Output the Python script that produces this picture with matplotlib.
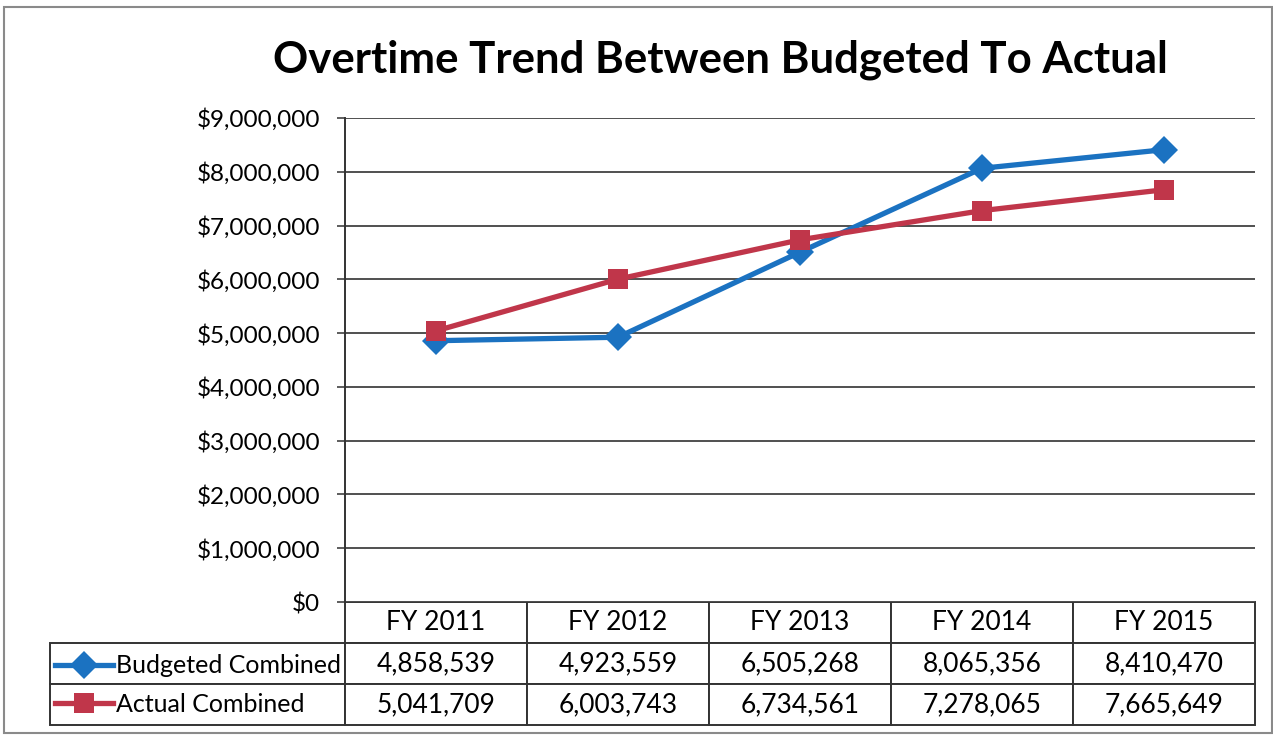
import matplotlib
matplotlib.use("Agg")
import matplotlib.pyplot as plt
from matplotlib.patches import Rectangle
from matplotlib.ticker import FuncFormatter

plt.rcParams['font.family'] = ['Lato', 'DejaVu Sans']

years = ['FY 2011', 'FY 2012', 'FY 2013', 'FY 2014', 'FY 2015']
budgeted = [4858539, 4923559, 6505268, 8065356, 8410470]
actual = [5041709, 6003743, 6734561, 7278065, 7665649]
series_names = ['Budgeted Combined', 'Actual Combined']

blue = '#1b72c1'
red = '#c0364a'
grid_col = '#505050'

fig = plt.figure(figsize=(12.73, 7.38), dpi=100)
# axes placed in pixel terms of the reference: x 345..1255, y 118..602
ax = fig.add_axes([345 / 1273, 1 - 602 / 738, 910 / 1273, 484 / 738])

x = list(range(len(years)))
line_b, = ax.plot(x, budgeted, color=blue, lw=3.8, marker='D', ms=14,
                  markeredgewidth=0, label=series_names[0], zorder=3, clip_on=False)
line_a, = ax.plot(x, actual, color=red, lw=3.8, marker='s', ms=15,
                  markeredgewidth=0, label=series_names[1], zorder=3, clip_on=False)

ax.set_xlim(-0.5, len(years) - 0.5)
ax.set_ylim(0, 9000000)
ax.set_yticks(range(0, 9000001, 1000000))
ax.yaxis.set_major_formatter(FuncFormatter(lambda v, p: '${:,.0f}'.format(v)))
ax.tick_params(axis='y', labelsize=17.5, length=6, width=1.3, color=grid_col, pad=12)
ax.set_xticks([])
ax.grid(axis='y', color=grid_col, lw=1.4)
ax.set_axisbelow(True)
for s in ['top', 'right', 'bottom']:
    ax.spines[s].set_visible(False)
ax.spines['left'].set_color('#333333')
ax.spines['left'].set_linewidth(1.4)

# data table underneath (bbox covers the year columns, the label column hangs left)
cells = [['{:,}'.format(v) for v in budgeted],
         ['{:,}'.format(v) for v in actual]]
tbl = ax.table(cellText=cells, colLabels=years,
               colWidths=[0.2] * len(years),
               cellLoc='center', colLoc='center',
               bbox=[0, -123 / 484, 1, 123 / 484])
row_h = tbl[(1, 0)].get_height()
for r in (1, 2):
    tbl.add_cell(r, -1, width=295 / 910, height=row_h, text='')
tbl.auto_set_font_size(False)
tbl.set_fontsize(19)
for (r, c), cell in tbl.get_celld().items():
    cell.set_edgecolor('#333333')
    cell.set_linewidth(1.4)

# legend keys sit inside the row label cells
fig.legend(handles=[line_b, line_a], labels=series_names, loc='center left',
           bbox_to_anchor=(55 / 1273, 1 - 685 / 738), frameon=False,
           fontsize=18, handlelength=2.3, handletextpad=0.12,
           borderpad=0, borderaxespad=0, labelspacing=0.62)

fig.text(720 / 1273, 1 - 60 / 738, 'Overtime Trend Between Budgeted To Actual',
         ha='center', va='center', fontsize=31.5, fontweight='bold')

fig.patches.append(Rectangle((0.003, 0.007), 0.996, 0.984, fill=False,
                             edgecolor='#8a8a8a', lw=1.5,
                             transform=fig.transFigure))

fig.savefig('out.png', dpi=100)
